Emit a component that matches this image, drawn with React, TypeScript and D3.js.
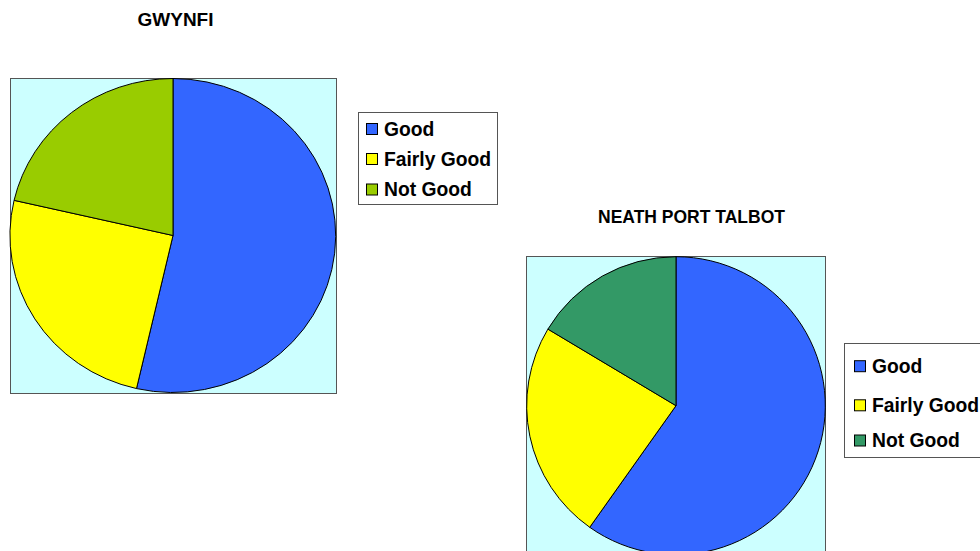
import React, { useEffect, useRef } from "react";
import * as d3 from "d3";

const categories = ["Good", "Fairly Good", "Not Good"];
const gwynfiValues = [53.6, 25.0, 21.4];
const nptValues = [59.8, 23.8, 16.4];
const gwynfiColors = ["#3366FF", "#FFFF00", "#99CC00"];
const nptColors = ["#3366FF", "#FFFF00", "#339966"];

type ChartCfg = {
  title: string;
  titleX: number;
  titleY: number;
  titleSize: number;
  values: number[];
  colors: string[];
  box: [number, number, number, number];
  cx: number;
  cy: number;
  rx: number;
  ry: number;
  legend: { x: number; y: number; w: number; h: number; rows: number[]; sx: number; tx: number };
};

const charts: ChartCfg[] = [
  {
    title: "GWYNFI",
    titleX: 175.5,
    titleY: 26,
    titleSize: 19,
    values: gwynfiValues,
    colors: gwynfiColors,
    box: [10.5, 78.5, 326, 315],
    cx: 173,
    cy: 235.5,
    rx: 163,
    ry: 157,
    legend: { x: 358.5, y: 112.5, w: 139, h: 92, rows: [129, 159, 189.5], sx: 366.5, tx: 384 },
  },
  {
    title: "NEATH PORT TALBOT",
    titleX: 691.5,
    titleY: 222.5,
    titleSize: 17.5,
    values: nptValues,
    colors: nptColors,
    box: [526.5, 256.5, 299, 300],
    cx: 676,
    cy: 405.7,
    rx: 149.3,
    ry: 149,
    legend: { x: 844.5, y: 343.5, w: 150, h: 114, rows: [366.2, 405.3, 440.5], sx: 854.5, tx: 872 },
  },
];

export default function App() {
  const ref = useRef<SVGSVGElement>(null);
  useEffect(() => {
    const svg = d3.select(ref.current);
    svg.selectAll("*").remove();
    const pie = d3.pie<number>().sort(null).value((d) => d);
    const arc = d3.arc<d3.PieArcDatum<number>>().innerRadius(0).outerRadius(1);
    charts.forEach((c) => {
      const g = svg.append("g");
      g.append("text")
        .attr("x", c.titleX)
        .attr("y", c.titleY)
        .attr("text-anchor", "middle")
        .attr("font-family", "Liberation Sans, Arial, sans-serif")
        .attr("font-weight", "bold")
        .attr("font-size", c.titleSize)
        .attr("fill", "#000")
        .text(c.title);
      g.append("rect")
        .attr("x", c.box[0])
        .attr("y", c.box[1])
        .attr("width", c.box[2])
        .attr("height", c.box[3])
        .attr("fill", "#CCFFFF")
        .attr("stroke", "#555")
        .attr("stroke-width", 1);
      const pg = g.append("g").attr("transform", `translate(${c.cx},${c.cy}) scale(${c.rx},${c.ry})`);
      pg.selectAll("path")
        .data(pie(c.values))
        .join("path")
        .attr("d", arc as any)
        .attr("fill", (_, i) => c.colors[i])
        .attr("stroke", "#000")
        .attr("stroke-width", 1)
        .attr("vector-effect", "non-scaling-stroke");
      const L = c.legend;
      g.append("rect")
        .attr("x", L.x)
        .attr("y", L.y)
        .attr("width", L.w)
        .attr("height", L.h)
        .attr("fill", "#fff")
        .attr("stroke", "#555")
        .attr("stroke-width", 1);
      categories.forEach((cat, i) => {
        g.append("rect")
          .attr("x", L.sx)
          .attr("y", L.rows[i] - 5.5)
          .attr("width", 11)
          .attr("height", 11)
          .attr("fill", c.colors[i])
          .attr("stroke", "#000")
          .attr("stroke-width", 1);
        g.append("text")
          .attr("x", L.tx)
          .attr("y", L.rows[i])
          .attr("dy", "0.36em")
          .attr("font-family", "Liberation Sans, Arial, sans-serif")
          .attr("font-weight", "bold")
          .attr("font-size", 19.3)
          .attr("fill", "#000")
          .text(cat);
      });
    });
  }, []);
  return (
    <svg
      ref={ref}
      width={980}
      height={551}
      style={{ position: "absolute", left: 0, top: 0, display: "block", background: "#fff" }}
    />
  );
}
